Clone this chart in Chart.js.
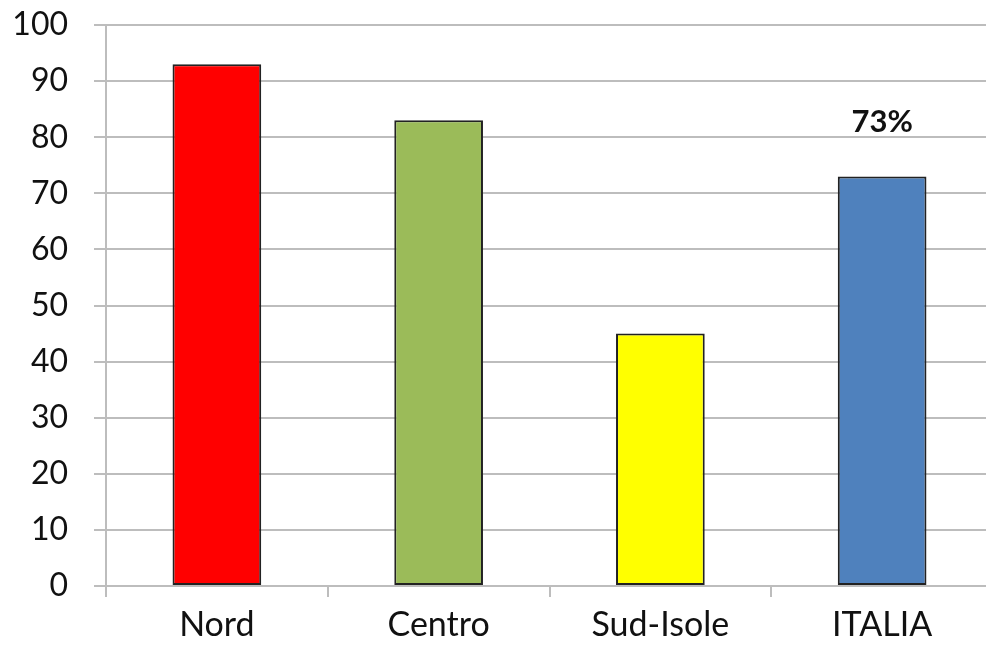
<!DOCTYPE html>
<html>
<head>
<meta charset="utf-8">
<script src="https://cdn.jsdelivr.net/npm/chart.js@4"></script>
<style>
  html, body { margin: 0; padding: 0; background: #fff; overflow: hidden; }
  #wrap { width: 993px; height: 650px; }
</style>
</head>
<body>
<div id="wrap"><canvas id="c" width="993" height="650"></canvas></div>
<script>
// Areas and their shares (%)
const categories = ['Nord', 'Centro', 'Sud-Isole', 'ITALIA'];
const values = [93, 83, 45, 73];
const barColors = ['#FF0000', '#9BBB59', '#FFFF00', '#4F81BD'];
// Bars that carry a value label on top
const labelled = ['ITALIA'];
const yTicks = [0, 10, 20, 30, 40, 50, 60, 70, 80, 90, 100];

const gridGray = '#BDBDBD';

// Writes the value (as a percentage) above the selected bars
const valueLabelPlugin = {
  id: 'valueLabel',
  afterDatasetsDraw(chart) {
    const ctx = chart.ctx;
    const meta = chart.getDatasetMeta(0);
    ctx.save();
    ctx.font = 'bold 31px Lato';
    ctx.fillStyle = '#111';
    ctx.textAlign = 'center';
    ctx.textBaseline = 'alphabetic';
    meta.data.forEach((bar, i) => {
      if (!labelled.includes(categories[i])) return;
      const v = chart.data.datasets[0].data[i];
      ctx.fillText(v + '%', bar.x, bar.y - 44);
    });
    ctx.restore();
  }
};

new Chart(document.getElementById('c'), {
  type: 'bar',
  data: {
    labels: categories,
    datasets: [{
      data: values,
      backgroundColor: barColors,
      borderColor: '#222',
      borderWidth: 2,
      borderSkipped: false,
      barPercentage: 0.4,
      categoryPercentage: 1.0
    }]
  },
  options: {
    responsive: false,
    animation: false,
    layout: { padding: { top: 25, right: 0, left: 0, bottom: 0 } },
    plugins: {
      legend: { display: false },
      tooltip: { enabled: false }
    },
    scales: {
      x: {
        offset: true,
        grid: {
          offset: true,
          drawOnChartArea: false,
          drawTicks: true,
          tickLength: 11,
          color: gridGray,
          lineWidth: 2
        },
        border: { display: true, color: gridGray, width: 2 },
        ticks: { color: '#111', font: { family: 'Lato', size: 34 }, padding: 8 },
        afterFit(scale) { scale.height = 64; }
      },
      y: {
        min: 0,
        max: 100,
        afterBuildTicks(scale) { scale.ticks = yTicks.map(v => ({ value: v })); },
        grid: {
          color: gridGray,
          lineWidth: 2,
          drawTicks: true,
          tickLength: 12
        },
        border: { display: true, color: gridGray, width: 2 },
        ticks: { color: '#111', font: { family: 'Lato', size: 32 }, padding: 26 },
        afterFit(scale) {
          scale.width = 106;
          scale.paddingTop = 0;
          scale.paddingBottom = 0;
        }
      }
    }
  },
  plugins: [valueLabelPlugin]
});
</script>
</body>
</html>
